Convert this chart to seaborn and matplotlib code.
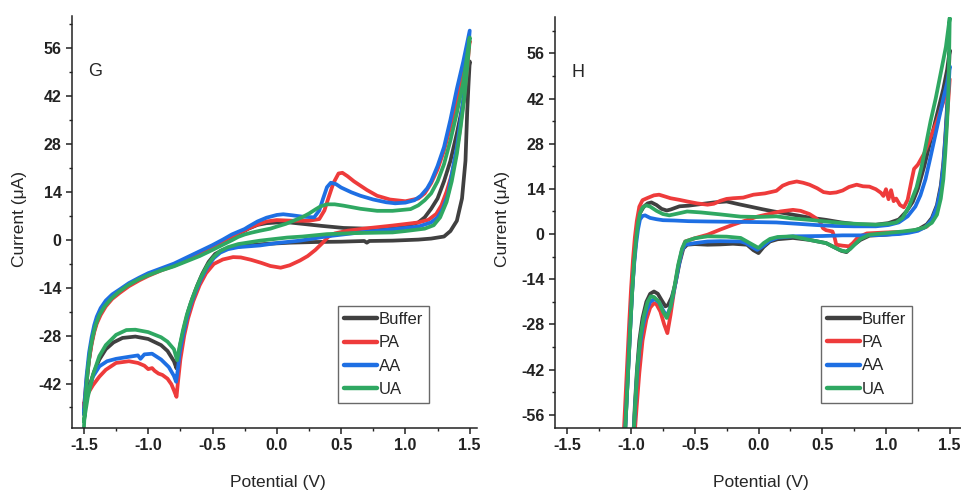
import matplotlib
matplotlib.use("Agg")
import matplotlib.pyplot as plt
import seaborn as sns
import pandas as pd
from matplotlib.ticker import MultipleLocator

# ---------------- data ----------------
series_names = ["Buffer", "PA", "AA", "UA"]
series_colors = ["#404040", "#EE3B3B", "#1E6FE3", "#2FA862"]

# Panel G : cyclic voltammograms (potential V, current uA), loop order
g_buffer_v = [-1.50, -1.48, -1.46, -1.44, -1.42, -1.40, -1.37, -1.33, -1.28, -1.22, -1.15, -1.07, -1.00, -0.90, -0.80, -0.70, -0.60, -0.50, -0.42, -0.35, -0.30, -0.25, -0.22, -0.15, -0.08, 0.00, 0.10, 0.20, 0.35, 0.52, 0.70, 0.85, 1.00, 1.10, 1.15, 1.20, 1.25, 1.30, 1.35, 1.40, 1.45, 1.50,
              1.49, 1.48, 1.467, 1.44, 1.40, 1.35, 1.30, 1.20, 1.10, 0.90, 0.72, 0.70, 0.68, 0.50, 0.30, 0.10, -0.10, -0.25, -0.35, -0.42, -0.48, -0.53, -0.58, -0.62, -0.66, -0.69, -0.72, -0.75, -0.77, -0.78, -0.80, -0.85, -0.90, -1.00, -1.10, -1.20, -1.27, -1.33, -1.38, -1.42, -1.46, -1.50]
g_buffer_i = [-51, -42, -35, -30, -26.5, -24, -21.5, -19, -17, -15.2, -13.3, -11.6, -10.2, -8.8, -7.6, -6.0, -4.3, -2.4, -0.6, 0.9, 1.8, 2.6, 3.2, 4.3, 4.8, 5.0, 5.0, 4.6, 4.0, 3.4, 3.2, 3.4, 4.0, 5.0, 6.5, 9.0, 12, 17, 23, 31, 40, 52,
              45, 37, 23, 12, 5.5, 2.5, 0.9, 0.3, 0.0, -0.3, -0.4, -0.9, -0.4, -0.6, -0.7, -0.9, -1.3, -1.8, -2.3, -3.0, -4.2, -6.5, -10, -13.5, -17.5, -21, -25.5, -30.5, -35, -37.6, -35.5, -32.5, -30.8, -29.0, -28.3, -28.7, -30, -32, -35, -38.5, -43, -50]

g_pa_v = [-1.50, -1.48, -1.46, -1.44, -1.42, -1.40, -1.37, -1.33, -1.28, -1.22, -1.15, -1.07, -1.00, -0.90, -0.80, -0.70, -0.60, -0.50, -0.42, -0.35, -0.30, -0.25, -0.22, -0.15, -0.08, 0.00, 0.13, 0.25, 0.33, 0.37, 0.40, 0.44, 0.48, 0.51, 0.55, 0.60, 0.70, 0.78, 0.88, 1.00, 1.10, 1.15, 1.20, 1.25, 1.30, 1.35, 1.40, 1.45, 1.50,
          1.48, 1.45, 1.42, 1.39, 1.36, 1.32, 1.28, 1.24, 1.18, 1.10, 0.90, 0.70, 0.55, 0.45, 0.40, 0.36, 0.30, 0.24, 0.18, 0.10, 0.03, -0.05, -0.12, -0.20, -0.28, -0.34, -0.42, -0.49, -0.55, -0.60, -0.65, -0.69, -0.72, -0.75, -0.77, -0.78, -0.80, -0.82, -0.85, -0.89, -0.92, -0.95, -0.97, -1.00, -1.03, -1.08, -1.15, -1.25, -1.33, -1.38, -1.43, -1.47, -1.50]
g_pa_i = [-49, -41, -35, -30.5, -27, -24.5, -22, -19.5, -17.3, -15.5, -13.6, -11.9, -10.6, -9.0, -7.6, -5.8, -4.0, -2.2, -0.5, 1.0, 1.9, 2.7, 3.3, 4.4, 5.3, 5.7, 5.5, 5.5, 6.0, 8.5, 12, 16.5, 19.3, 19.5, 18.5, 17.0, 14.5, 12.8, 11.7, 11.2, 12.0, 13.5, 16.5, 20.5, 26, 33, 41, 49, 58,
          50, 40, 31, 24, 19, 14, 10, 7.5, 5.8, 5.0, 4.1, 3.3, 2.6, 1.8, 0.8, -0.8, -3.0, -4.8, -6.1, -7.5, -8.2, -7.7, -6.8, -5.9, -5.2, -5.1, -5.8, -7.1, -9.8, -13.3, -18, -23, -28, -35, -42, -45.9, -44, -42.2, -40.6, -39.5, -39.1, -38.3, -37.5, -37.8, -36.8, -36.0, -35.5, -36.0, -38.0, -40, -42.5, -45, -48]

g_aa_v = [-1.50, -1.48, -1.46, -1.44, -1.42, -1.40, -1.37, -1.33, -1.28, -1.22, -1.15, -1.07, -1.00, -0.90, -0.80, -0.70, -0.60, -0.50, -0.42, -0.35, -0.30, -0.25, -0.22, -0.15, -0.08, 0.00, 0.05, 0.12, 0.20, 0.29, 0.33, 0.36, 0.39, 0.42, 0.46, 0.50, 0.58, 0.65, 0.75, 0.85, 0.92, 1.00, 1.07, 1.12, 1.17, 1.20, 1.25, 1.30, 1.35, 1.40, 1.45, 1.50,
          1.48, 1.46, 1.43, 1.40, 1.36, 1.33, 1.29, 1.25, 1.20, 1.10, 0.90, 0.65, 0.40, 0.18, 0.00, -0.13, -0.30, -0.38, -0.44, -0.49, -0.54, -0.59, -0.63, -0.67, -0.70, -0.73, -0.755, -0.77, -0.783, -0.80, -0.84, -0.90, -0.97, -1.03, -1.06, -1.08, -1.15, -1.25, -1.32, -1.38, -1.43, -1.47, -1.50]
g_aa_i = [-50, -40, -33, -28.5, -25, -22.5, -20, -17.8, -16, -14.5, -12.7, -11.1, -9.8, -8.4, -7.0, -5.2, -3.4, -1.6, 0.0, 1.5, 2.3, 3.1, 3.8, 5.3, 6.4, 7.2, 7.4, 7.1, 6.7, 6.5, 8.5, 12, 15.3, 16.6, 16.2, 15.2, 13.8, 12.8, 11.7, 10.9, 10.6, 10.8, 11.5, 12.8, 15, 17, 21.5, 27, 35, 44, 52, 61,
          52, 44, 35, 27, 19, 13, 9, 6.5, 5.0, 3.8, 3.0, 2.1, 1.0, -0.3, -1.0, -1.7, -2.2, -2.8, -3.8, -5.4, -8.0, -11.5, -15, -19, -23, -28, -33, -38, -41.5, -39.8, -37.2, -35, -33.3, -33.5, -34.8, -33.8, -34.2, -34.8, -35.5, -37, -40, -45, -51]

g_ua_v = [-1.50, -1.49, -1.47, -1.45, -1.43, -1.41, -1.38, -1.34, -1.29, -1.23, -1.16, -1.08, -1.00, -0.90, -0.80, -0.70, -0.60, -0.50, -0.42, -0.35, -0.30, -0.25, -0.20, -0.13, -0.05, 0.00, 0.07, 0.13, 0.20, 0.25, 0.30, 0.34, 0.39, 0.45, 0.52, 0.65, 0.78, 0.90, 1.04, 1.10, 1.15, 1.20, 1.25, 1.30, 1.35, 1.40, 1.45, 1.50,
          1.48, 1.46, 1.43, 1.40, 1.36, 1.32, 1.27, 1.22, 1.15, 1.00, 0.90, 0.60, 0.39, 0.20, 0.08, -0.13, -0.30, -0.38, -0.44, -0.49, -0.54, -0.59, -0.63, -0.67, -0.70, -0.73, -0.755, -0.775, -0.80, -0.85, -0.90, -1.00, -1.10, -1.17, -1.25, -1.33, -1.38, -1.43, -1.47, -1.50]
g_ua_i = [-55, -47, -38, -32, -28, -25, -22, -19.5, -17.3, -15.3, -13.4, -11.7, -10.4, -9.0, -7.8, -6.3, -4.8, -3.0, -1.5, -0.2, 0.8, 1.5, 2.0, 2.6, 3.2, 3.8, 4.6, 5.5, 6.6, 7.6, 8.8, 9.7, 10.3, 10.3, 9.9, 9.0, 8.4, 8.4, 8.9, 10.0, 11.5, 13.5, 17, 22, 29, 37, 46, 59,
          50, 42, 33, 25, 17, 11, 6.5, 4.2, 3.2, 2.5, 2.1, 1.9, 1.6, 0.9, 0.6, -0.3, -1.3, -2.2, -3.3, -5.0, -7.5, -11, -14.5, -18.5, -22, -26.5, -31, -35.2, -32, -29.8, -28.5, -27, -26.3, -26.4, -27.8, -30.8, -34, -39.5, -46, -53]

# Panel H
h_buffer_v = [-1.06, -1.045, -1.025, -1.005, -0.99, -0.975, -0.96, -0.945, -0.93, -0.90, -0.87, -0.84, -0.80, -0.76, -0.72, -0.69, -0.62, -0.55, -0.45, -0.35, -0.25, -0.15, -0.065, 0.03, 0.12, 0.20, 0.27, 0.40, 0.53, 0.65, 0.78, 0.92, 1.02, 1.10, 1.16, 1.21, 1.25, 1.30, 1.35, 1.40, 1.45, 1.48, 1.50,
              1.49, 1.48, 1.465, 1.45, 1.43, 1.40, 1.36, 1.32, 1.26, 1.20, 1.13, 1.00, 0.87, 0.80, 0.75, 0.69, 0.65, 0.60, 0.53, 0.40, 0.27, 0.15, 0.09, 0.04, 0.00, -0.04, -0.09, -0.20, -0.30, -0.40, -0.50, -0.56, -0.59, -0.62, -0.65, -0.68, -0.71, -0.73, -0.76, -0.79, -0.82, -0.85, -0.88, -0.91, -0.935, -0.955, -0.97, -0.98, -0.99]
h_buffer_i = [-72, -60, -44, -28, -17, -8, -1, 4, 6.5, 8.5, 9.5, 9.8, 9.0, 7.8, 7.3, 7.6, 8.6, 8.8, 9.3, 9.8, 10.1, 9.2, 8.5, 7.7, 7.0, 6.5, 6.0, 5.1, 4.4, 3.6, 3.0, 2.9, 3.4, 4.5, 7, 10, 14, 21, 29, 37, 45, 51, 57,
              48, 40, 30, 22, 15, 9, 5, 3, 1.6, 0.8, 0.3, -0.2, -0.5, -1.8, -3.3, -5.6, -5.2, -4.2, -2.8, -1.8, -1.2, -1.6, -2.3, -4.0, -5.9, -5.0, -3.3, -3.0, -3.2, -3.3, -3.1, -3.3, -4.5, -9, -15, -19.5, -22, -22.4, -20.5, -18.5, -17.8, -18.5, -21, -26, -33, -43, -53, -61, -72]

h_pa_v = [-1.07, -1.055, -1.035, -1.015, -1.00, -0.985, -0.97, -0.955, -0.935, -0.91, -0.87, -0.82, -0.78, -0.73, -0.69, -0.62, -0.56, -0.48, -0.40, -0.35, -0.30, -0.25, -0.20, -0.12, -0.04, 0.05, 0.14, 0.19, 0.24, 0.30, 0.35, 0.40, 0.46, 0.51, 0.56, 0.61, 0.66, 0.71, 0.77, 0.82, 0.87, 0.92, 0.96, 0.98, 1.00, 1.02, 1.04, 1.06, 1.08, 1.11, 1.14, 1.17, 1.20, 1.22, 1.25, 1.30, 1.35, 1.40, 1.45, 1.50,
          1.49, 1.475, 1.46, 1.44, 1.41, 1.37, 1.32, 1.25, 1.15, 1.00, 0.85, 0.78, 0.74, 0.71, 0.66, 0.61, 0.595, 0.58, 0.53, 0.506, 0.48, 0.44, 0.40, 0.33, 0.27, 0.17, 0.08, -0.01, -0.10, -0.20, -0.30, -0.40, -0.50, -0.575, -0.60, -0.63, -0.66, -0.69, -0.715, -0.74, -0.77, -0.80, -0.82, -0.85, -0.88, -0.91, -0.935, -0.955, -0.97, -0.98]
h_pa_i = [-72, -60, -44, -28, -17, -8, -1, 4, 8.5, 10.5, 11.2, 12.0, 12.2, 11.6, 11.1, 10.6, 10.1, 9.5, 9.1, 9.4, 10.3, 10.9, 11.1, 11.3, 12.2, 12.6, 13.4, 15.0, 15.8, 16.3, 15.9, 15.3, 14.2, 13.0, 12.7, 12.9, 13.5, 14.6, 15.3, 14.8, 14.7, 13.9, 12.8, 11.8, 13.9, 10.8, 13.6, 10.2, 11.0, 9.0, 8.3, 10.6, 16.5, 20.2, 21.5, 25, 30, 35, 41, 48,
          42, 34, 25, 16, 9, 4.5, 2.3, 1.3, 0.7, 0.5, 0.2, -1.0, -2.8, -3.8, -3.6, -3.3, -0.8, 0.8, 1.2, 1.8, 3.9, 5.2, 6.2, 7.2, 7.5, 7.0, 6.2, 5.4, 4.2, 2.9, 1.4, -0.2, -1.3, -2.3, -5, -10, -17, -25, -30.7, -28, -24, -21.8, -21.4, -22.8, -26.5, -33, -43, -53, -61, -72]

h_aa_v = [-1.06, -1.045, -1.025, -1.005, -0.99, -0.975, -0.96, -0.945, -0.93, -0.91, -0.89, -0.85, -0.80, -0.75, -0.66, -0.55, -0.40, -0.20, 0.00, 0.14, 0.30, 0.45, 0.60, 0.75, 0.92, 1.02, 1.10, 1.17, 1.23, 1.27, 1.31, 1.35, 1.40, 1.45, 1.48, 1.50,
          1.49, 1.48, 1.465, 1.45, 1.43, 1.40, 1.36, 1.31, 1.25, 1.18, 1.10, 0.95, 0.80, 0.66, 0.50, 0.27, 0.15, 0.09, 0.04, -0.01, -0.05, -0.10, -0.14, -0.30, -0.40, -0.50, -0.575, -0.60, -0.63, -0.66, -0.69, -0.72, -0.75, -0.78, -0.815, -0.85, -0.88, -0.91, -0.935, -0.955, -0.97, -0.98, -0.99]
h_aa_i = [-72, -60, -44, -28, -17, -9, -3, 1.5, 4.5, 5.6, 5.8, 5.0, 4.6, 4.3, 4.2, 4.0, 3.9, 3.8, 3.7, 3.6, 3.2, 2.8, 2.5, 2.4, 2.4, 2.8, 3.6, 5.5, 8.5, 12, 17, 24, 33, 42, 47, 52,
          45, 38, 29, 21, 14, 8.5, 4.5, 2.2, 1.0, 0.4, 0.0, -0.3, -0.4, -0.4, -0.6, -0.7, -1.1, -2.0, -3.6, -4.9, -4.0, -2.8, -2.3, -2.2, -2.3, -2.8, -3.3, -5, -10.5, -17, -22.5, -25.5, -23.5, -21.2, -20.1, -21, -24, -29, -36, -45, -55, -63, -72]

h_ua_v = [-1.06, -1.045, -1.025, -1.005, -0.99, -0.975, -0.96, -0.945, -0.93, -0.91, -0.88, -0.85, -0.80, -0.75, -0.70, -0.64, -0.56, -0.45, -0.30, -0.14, 0.00, 0.14, 0.25, 0.40, 0.55, 0.66, 0.80, 0.92, 1.02, 1.08, 1.13, 1.18, 1.24, 1.28, 1.31, 1.35, 1.39, 1.43, 1.47, 1.50,
          1.495, 1.49, 1.48, 1.465, 1.45, 1.43, 1.40, 1.36, 1.30, 1.23, 1.13, 1.00, 0.87, 0.80, 0.766, 0.72, 0.69, 0.66, 0.636, 0.58, 0.53, 0.40, 0.27, 0.15, 0.09, 0.04, 0.00, -0.05, -0.14, -0.25, -0.40, -0.50, -0.575, -0.60, -0.63, -0.66, -0.69, -0.72, -0.75, -0.78, -0.82, -0.845, -0.87, -0.90, -0.925, -0.95, -0.965, -0.98, -0.99]
h_ua_i = [-72, -60, -44, -28, -17, -8, -1.5, 3.5, 6.5, 8.2, 8.9, 8.5, 7.2, 6.2, 5.8, 6.3, 7.0, 6.7, 6.1, 5.4, 5.3, 5.5, 4.9, 4.4, 3.8, 3.4, 3.1, 2.9, 3.2, 3.6, 5.0, 8.5, 14.5, 21, 27, 35, 42, 50, 58, 67,
          55, 45, 35, 25, 17, 11, 6, 3.5, 2.0, 1.3, 0.8, 0.3, -0.2, -1.5, -2.8, -4.6, -5.4, -5.2, -4.9, -3.8, -2.8, -1.8, -0.7, -0.9, -1.5, -2.8, -4.3, -3.2, -1.2, -0.8, -0.7, -1.3, -2.3, -4.5, -9.5, -16.5, -22.5, -26.0, -24, -21, -19.5, -19.3, -21, -25.5, -31.5, -41, -51, -62, -72]

x_ticks = [-1.5, -1.0, -0.5, 0.0, 0.5, 1.0, 1.5]
x_tick_labels = ["-1.5", "-1.0", "-0.5", "0.0", "0.5", "1.0", "1.5"]
g_y_ticks = [-42, -28, -14, 0, 14, 28, 42, 56]
h_y_ticks = [-56, -42, -28, -14, 0, 14, 28, 42, 56]
panel_letters = ["G", "H"]
x_label = "Potential (V)"
y_label = "Current (\u03bcA)"


def build_frame(curves):
    parts = []
    for name, (v, i) in zip(series_names, curves):
        parts.append(pd.DataFrame({"Potential": v, "Current": i, "Series": name}))
    return pd.concat(parts, ignore_index=True)


df_g = build_frame([(g_buffer_v, g_buffer_i), (g_pa_v, g_pa_i), (g_aa_v, g_aa_i), (g_ua_v, g_ua_i)])
df_h = build_frame([(h_buffer_v, h_buffer_i), (h_pa_v, h_pa_i), (h_aa_v, h_aa_i), (h_ua_v, h_ua_i)])

# ---------------- style ----------------
sns.set_theme(style="ticks")
plt.rcParams["font.family"] = ["Liberation Sans", "DejaVu Sans"]
plt.rcParams["axes.unicode_minus"] = False
plt.rcParams["axes.edgecolor"] = "#222222"
plt.rcParams["axes.linewidth"] = 1.1
plt.rcParams["xtick.color"] = "#222222"
plt.rcParams["ytick.color"] = "#222222"

fig = plt.figure(figsize=(9.62, 4.92), dpi=100)
fig.patch.set_facecolor("white")

axes_specs = [
    (df_g, [0.0748, 0.130, 0.4215, 0.837], (-1.593, 1.56), (-55, 65.2), g_y_ticks),
    (df_h, [0.577, 0.1307, 0.4215, 0.835], (-1.596, 1.585), (-60, 67.3), h_y_ticks),
]

for (df, rect, xl, yl, yticks), letter in zip(axes_specs, panel_letters):
    ax = fig.add_axes(rect)
    sns.lineplot(data=df, x="Potential", y="Current", hue="Series",
                 hue_order=series_names, palette=series_colors,
                 sort=False, estimator=None, linewidth=2.7, ax=ax)
    sns.despine(ax=ax)
    ax.set_xlim(*xl)
    ax.set_ylim(*yl)
    ax.set_xticks(x_ticks)
    ax.set_xticklabels(x_tick_labels)
    ax.set_yticks(yticks)
    ax.set_yticklabels([str(t) for t in yticks])
    ax.xaxis.set_minor_locator(MultipleLocator(0.25))
    ax.yaxis.set_minor_locator(MultipleLocator(7))
    ax.tick_params(which="major", direction="out", length=4, width=1.1, pad=3.5)
    ax.tick_params(which="minor", direction="out", length=2.3, width=1.0)
    for lab in ax.get_xticklabels() + ax.get_yticklabels():
        lab.set_fontweight("bold")
        lab.set_fontsize(11.5)
    ax.set_xlabel(x_label, fontsize=12.5)
    ax.set_ylabel(y_label, fontsize=12.5)
    ax.yaxis.set_label_coords(-0.112, 0.507)
    ax.xaxis.set_label_coords(0.507, -0.115)
    ax.text(0.057, 0.865, letter, transform=ax.transAxes, fontsize=13,
            ha="center", va="center")
    handles, labels = ax.get_legend_handles_labels()
    leg = ax.legend(handles, labels, loc="lower right", bbox_to_anchor=(0.88, 0.061),
                    frameon=True, fancybox=False, edgecolor="#444444",
                    handlelength=2.0, handletextpad=0.1, borderpad=0.35,
                    labelspacing=0.5, borderaxespad=0.0, fontsize=12)
    leg.get_frame().set_linewidth(1.0)
    for line in leg.get_lines():
        line.set_linewidth(3.2)

fig.savefig("out.png", dpi=100, facecolor="white")
